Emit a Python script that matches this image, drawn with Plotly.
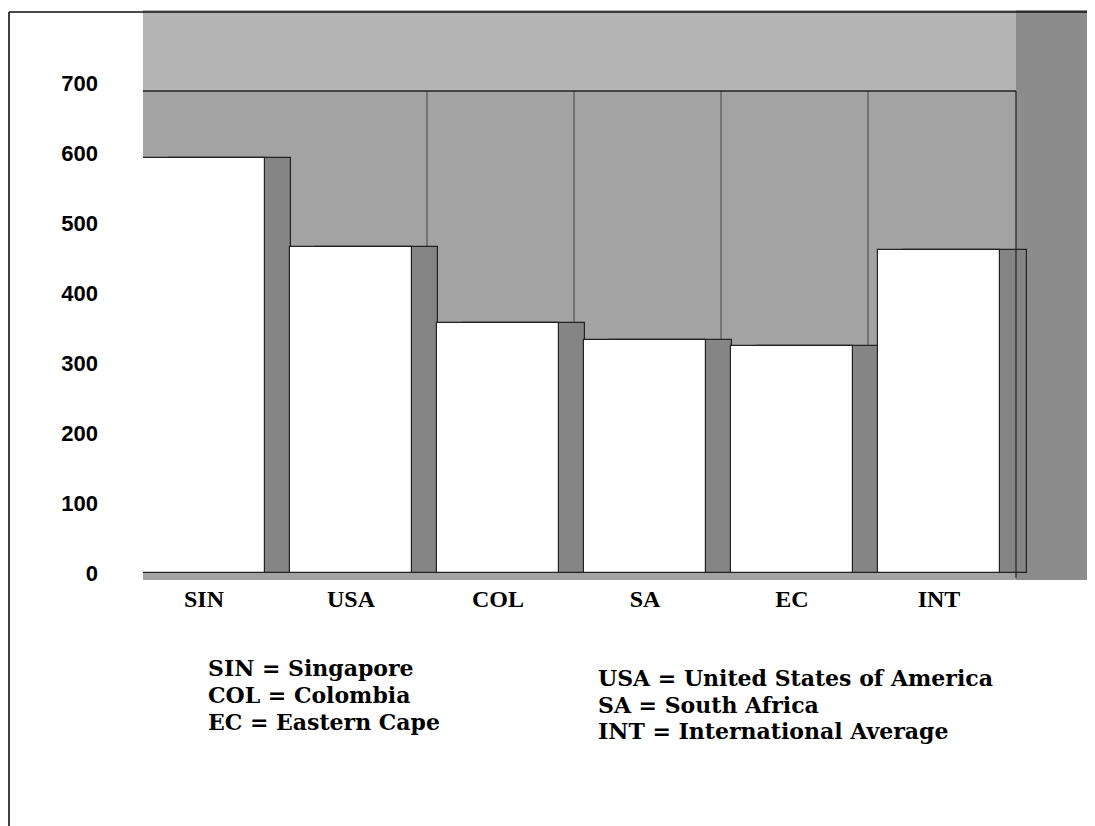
import plotly.graph_objects as go

categories = ["SIN", "USA", "COL", "SA", "EC", "INT"]
values = [592, 466, 357, 333, 324, 461]
y_ticks = [0, 100, 200, 300, 400, 500, 600, 700]
legend_left = ["SIN = Singapore", "COL = Colombia", "EC = Eastern Cape"]
legend_right = ["USA = United States of America", "SA = South Africa", "INT = International Average"]

x = list(range(len(categories)))

OFF = 8  # page body margin
FIG_W, FIG_H = 1095 - OFF, 826 - OFF
L = 143 - OFF
T = 10 - OFF
B_PX = 580  # reference pixel y of plot bottom
W = FIG_W - L
H = (B_PX - OFF) - T

def px(xp):
    return (xp - OFF - L) / W

def py(yp):
    return (B_PX - yp) / H

fig = go.Figure()
# 3D side faces
fig.add_trace(go.Bar(x=x, y=values, width=0.83, offset=-0.235,
                     marker=dict(color="#858585", line=dict(color="#222", width=1.2)),
                     showlegend=False, hoverinfo="skip"))
# front faces
fig.add_trace(go.Bar(x=x, y=values, width=0.83, offset=-0.415,
                     marker=dict(color="white", line=dict(color="#222", width=1.2)),
                     showlegend=False))

shapes = [
    dict(type="rect", xref="paper", yref="paper", x0=px(1016), x1=1, y0=0, y1=1,
         fillcolor="#8c8c8c", line=dict(width=0), layer="below"),
    dict(type="rect", xref="paper", yref="paper", x0=0, x1=px(1016), y0=py(91), y1=1,
         fillcolor="#b4b4b4", line=dict(width=0), layer="below"),
    dict(type="line", xref="paper", yref="paper", x0=0, x1=px(1016), y0=py(91), y1=py(91),
         line=dict(color="#222", width=1.5)),
    dict(type="line", xref="paper", yref="paper", x0=px(1016), x1=px(1016), y0=py(91), y1=py(578),
         line=dict(color="#222", width=1.2)),
    dict(type="line", xref="paper", yref="paper", x0=px(412), x1=px(870), y0=py(384), y1=py(384),
         line=dict(color="#333", width=1), layer="below"),
]
for xv in [427, 574, 721, 868]:
    shapes.append(dict(type="line", xref="paper", yref="paper", x0=px(xv), x1=px(xv),
                       y0=py(384), y1=py(91), line=dict(color="#444", width=1), layer="below"))
# outer scan border (left and top)
shapes.append(dict(type="line", xref="paper", yref="paper", x0=px(9), x1=px(9), y0=py(12), y1=py(826),
                   line=dict(color="#111", width=1.6)))
shapes.append(dict(type="line", xref="paper", yref="paper", x0=px(9), x1=1, y0=py(12), y1=py(12),
                   line=dict(color="#111", width=1.5)))

annotations = []
for i, t in enumerate(legend_left):
    annotations.append(dict(text="<b>" + t + "</b>", xref="paper", yref="paper",
                            x=px(206), y=py(668 + 27 * i),
                            xanchor="left", yanchor="middle", showarrow=False,
                            font=dict(family="DejaVu Serif", size=22, color="black")))
for i, t in enumerate(legend_right):
    annotations.append(dict(text="<b>" + t + "</b>", xref="paper", yref="paper",
                            x=px(596), y=py(678 + 26.5 * i),
                            xanchor="left", yanchor="middle", showarrow=False,
                            font=dict(family="DejaVu Serif", size=22, color="black")))

fig.update_layout(
    width=FIG_W, height=FIG_H,
    margin=dict(l=L, r=0, t=T, b=FIG_H - T - H),
    paper_bgcolor="white",
    plot_bgcolor="#a3a3a3",
    barmode="overlay",
    bargap=0,
    shapes=shapes,
    annotations=annotations,
    xaxis=dict(range=[-0.415, 6.061], tickmode="array", tickvals=x, ticktext=categories,
               showgrid=False, zeroline=False, showline=False, ticks="",
               tickfont=dict(family="Liberation Serif", size=24, color="black", weight="bold"),
               ticklabelstandoff=2),
    yaxis=dict(range=[-10, 804], tickmode="array", tickvals=y_ticks,
               ticktext=[str(v) for v in y_ticks],
               showgrid=False, zeroline=False, showline=False, ticks="",
               tickfont=dict(family="Liberation Sans", size=22, color="black", weight="bold"),
               ticklabelstandoff=44),
    font=dict(family="Liberation Sans"),
)

fig.write_html("out.html")
